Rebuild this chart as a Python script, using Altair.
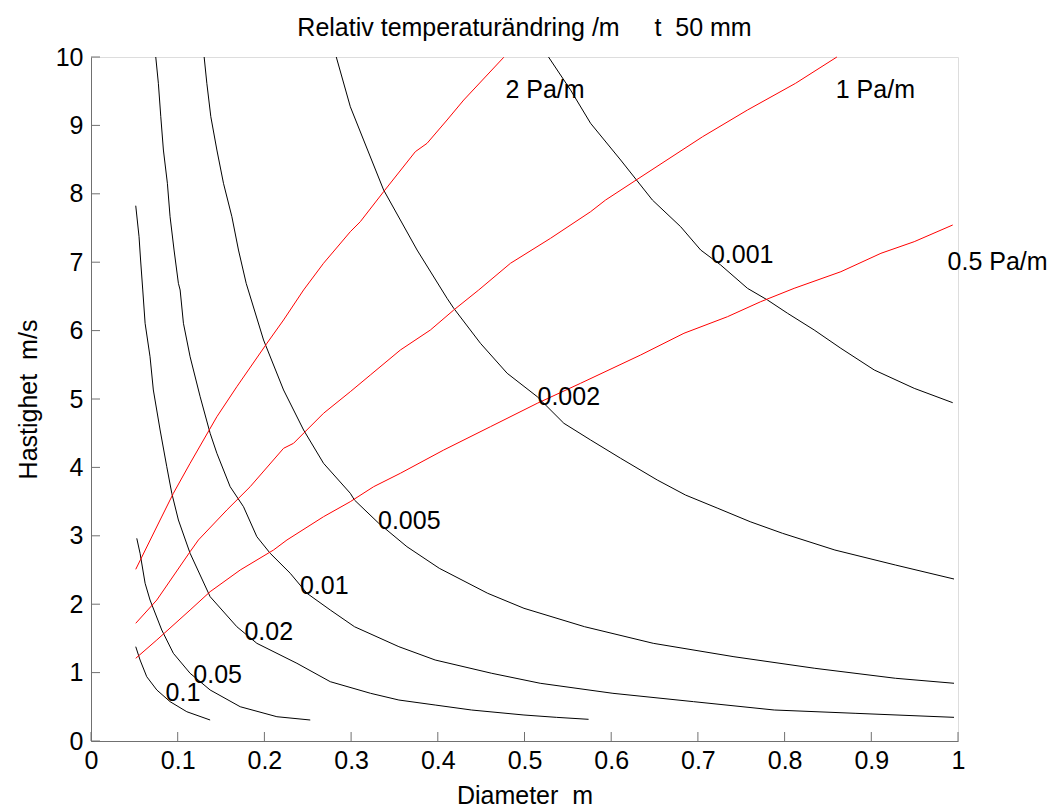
import altair as alt
import pandas as pd

# ---- contour curves: relative temperature change per metre (black) ----
d_01 = [0.0516, 0.0566, 0.0643, 0.0759, 0.0912, 0.1105, 0.1374]
v_01 = [1.379, 1.184, 0.940, 0.746, 0.575, 0.428, 0.307]

d_005 = [0.0528, 0.0566, 0.0624, 0.0681, 0.0816, 0.0950, 0.1143, 0.1374, 0.1721, 0.2144, 0.2529]
v_005 = [2.963, 2.744, 2.306, 2.061, 1.623, 1.282, 0.990, 0.746, 0.501, 0.355, 0.307]

d_002 = [0.0516, 0.0554, 0.0572, 0.0597, 0.0624, 0.0681, 0.0719, 0.0797, 0.0874, 0.0932, 0.1008,
         0.1143, 0.1374, 0.1682, 0.1913, 0.2375, 0.2760, 0.3225, 0.3551, 0.3970, 0.4389, 0.4994,
         0.5367, 0.5739]
v_002 = [7.826, 7.373, 7.032, 6.594, 6.107, 5.618, 5.132, 4.547, 4.010, 3.621, 3.231,
         2.744, 2.110, 1.671, 1.428, 1.136, 0.867, 0.697, 0.599, 0.526, 0.453, 0.380,
         0.346, 0.317]

d_001 = [0.0747, 0.0777, 0.0805, 0.0835, 0.0881, 0.0912, 0.0958, 0.1008, 0.1028, 0.1066, 0.1143,
         0.1259, 0.1374, 0.1452, 0.1605, 0.1759, 0.1913, 0.2067, 0.2298, 0.2491, 0.2760, 0.3039,
         0.3551, 0.3970, 0.4622, 0.5181, 0.6020, 0.6950, 0.7881, 0.8813, 0.9954]
v_001 = [10.0, 9.616, 9.127, 8.640, 8.154, 7.665, 7.178, 6.691, 6.594, 6.107, 5.618,
         5.034, 4.499, 4.206, 3.718, 3.425, 2.987, 2.744, 2.452, 2.159, 1.915, 1.671,
         1.379, 1.184, 0.990, 0.844, 0.697, 0.575, 0.453, 0.405, 0.346]

d_0005 = [0.1305, 0.1336, 0.1382, 0.1452, 0.1528, 0.1625, 0.1701, 0.1790, 0.1990, 0.2221, 0.2452,
          0.2682, 0.2991, 0.3039, 0.3319, 0.3644, 0.4017, 0.4576, 0.4994, 0.5693, 0.6485, 0.7416,
          0.8348, 0.9278, 0.9954]
v_0005 = [10.0, 9.616, 9.127, 8.640, 8.154, 7.665, 7.178, 6.691, 5.863, 5.132, 4.547,
          4.060, 3.621, 3.523, 3.183, 2.841, 2.525, 2.159, 1.940, 1.671, 1.428, 1.232,
          1.063, 0.917, 0.844]

d_0002 = [0.2829, 0.2991, 0.3144, 0.3375, 0.3568, 0.3761, 0.4107, 0.4184, 0.4492, 0.4800, 0.5147,
          0.5454, 0.5762, 0.6109, 0.6531, 0.6857, 0.7230, 0.7603, 0.7975, 0.8580, 0.9278, 0.9954]
v_0002 = [10.0, 9.273, 8.787, 8.056, 7.617, 7.178, 6.472, 6.326, 5.814, 5.376, 5.034,
          4.645, 4.401, 4.133, 3.816, 3.596, 3.402, 3.206, 3.037, 2.792, 2.573, 2.368]

d_0001 = [0.5277, 0.5531, 0.5762, 0.6109, 0.6475, 0.6801, 0.7032, 0.7263, 0.7572, 0.7803, 0.8034,
          0.8341, 0.8649, 0.9034, 0.9495, 0.9939]
v_0001 = [10.0, 9.518, 9.031, 8.494, 7.909, 7.519, 7.178, 6.959, 6.618, 6.447, 6.253,
          6.009, 5.741, 5.424, 5.156, 4.946]

# ---- pressure-drop curves (red) ----
d_2pa = [0.0516, 0.0797, 0.0950, 0.1143, 0.1452, 0.1682, 0.2029, 0.2221, 0.2452, 0.2682, 0.2991,
         0.3106, 0.3375, 0.3741, 0.3876, 0.4107, 0.4299, 0.4761]
v_2pa = [2.510, 3.231, 3.621, 4.060, 4.741, 5.180, 5.814, 6.155, 6.594, 6.984, 7.446,
         7.592, 8.031, 8.616, 8.738, 9.079, 9.371, 9.996]

d_1pa = [0.0516, 0.0759, 0.1143, 0.1239, 0.1567, 0.1836, 0.2221, 0.2336, 0.2682, 0.2991, 0.3222,
         0.3568, 0.3915, 0.4184, 0.4472, 0.4838, 0.5300, 0.5762, 0.5935, 0.6289, 0.7055, 0.7572,
         0.8127, 0.8603]
v_1pa = [1.721, 2.061, 2.768, 2.939, 3.377, 3.718, 4.279, 4.352, 4.791, 5.107, 5.351,
         5.716, 6.009, 6.301, 6.594, 6.984, 7.349, 7.738, 7.909, 8.202, 8.835, 9.225,
         9.616, 10.0]

d_05pa = [0.0516, 0.0759, 0.1143, 0.1374, 0.1721, 0.2105, 0.2260, 0.2682, 0.2991, 0.3260, 0.3568,
          0.4068, 0.4607, 0.5147, 0.5647, 0.6339, 0.6839, 0.7341, 0.7725, 0.8110, 0.8649, 0.9111,
          0.9495, 0.9939]
v_05pa = [1.209, 1.477, 1.915, 2.183, 2.500, 2.792, 2.939, 3.279, 3.499, 3.718, 3.914,
          4.254, 4.595, 4.937, 5.230, 5.643, 5.961, 6.203, 6.423, 6.618, 6.861, 7.130,
          7.300, 7.544]

# ---- curve labels ----
label_text = ["2 Pa/m", "1 Pa/m", "0.5 Pa/m", "0.001", "0.002", "0.005", "0.01", "0.02", "0.05", "0.1"]
label_x = [0.478, 0.859, 0.988, 0.715, 0.515, 0.331, 0.241, 0.177, 0.118, 0.086]
label_y = [9.52, 9.52, 7.00, 7.11, 5.03, 3.22, 2.27, 1.59, 0.97, 0.70]

# ---- axis ticks ----
x_ticks = [0, 0.1, 0.2, 0.3, 0.4, 0.5, 0.6, 0.7, 0.8, 0.9, 1.0]
y_ticks = [0, 1, 2, 3, 4, 5, 6, 7, 8, 9, 10]

curves = [
    ("0.1", d_01, v_01, "black"),
    ("0.05", d_005, v_005, "black"),
    ("0.02", d_002, v_002, "black"),
    ("0.01", d_001, v_001, "black"),
    ("0.005", d_0005, v_0005, "black"),
    ("0.002", d_0002, v_0002, "black"),
    ("0.001", d_0001, v_0001, "black"),
    ("2 Pa/m", d_2pa, v_2pa, "red"),
    ("1 Pa/m", d_1pa, v_1pa, "red"),
    ("0.5 Pa/m", d_05pa, v_05pa, "red"),
]
rows = []
for name, xs, ys, col in curves:
    for i, (a, b) in enumerate(zip(xs, ys)):
        rows.append({"series": name, "x": a, "y": b, "i": i, "col": col})
lines_df = pd.DataFrame(rows)
labels_df = pd.DataFrame({"x": label_x, "y": label_y, "t": label_text})
xt_df = pd.DataFrame({"x": x_ticks})
yt_df = pd.DataFrame({"y": y_ticks})

FONT = "Liberation Sans"
W, H = 867, 684
AXIS_GRAY = "#707070"

xscale = alt.Scale(domain=[0, 1], nice=False, zero=False)
yscale = alt.Scale(domain=[0, 10], nice=False, zero=False)

xaxis = alt.Axis(values=x_ticks, format="~g", title="Diameter\u00a0\u00a0m", grid=False,
                 ticks=False, tickSize=0, domainColor=AXIS_GRAY, domainWidth=1,
                 labelFont=FONT, labelFontSize=25, labelColor="black", labelPadding=7,
                 labelFlush=False, labelOverlap=False,
                 titleFont=FONT, titleFontSize=25, titleFontWeight="normal", titleColor="black",
                 titlePadding=10)
yaxis = alt.Axis(values=y_ticks, format="~g", title="Hastighet\u00a0\u00a0m/s", grid=False,
                 ticks=False, tickSize=0, domainColor=AXIS_GRAY, domainWidth=1,
                 labelFont=FONT, labelFontSize=25, labelColor="black", labelPadding=8,
                 labelFlush=False, labelOverlap=False,
                 titleFont=FONT, titleFontSize=25, titleFontWeight="normal", titleColor="black",
                 titlePadding=14)

lines = alt.Chart(lines_df).mark_line(strokeWidth=1, interpolate="linear").encode(
    x=alt.X("x:Q", scale=xscale, axis=xaxis),
    y=alt.Y("y:Q", scale=yscale, axis=yaxis),
    color=alt.Color("col:N", scale=None),
    detail="series:N",
    order="i:Q",
)

texts = alt.Chart(labels_df).mark_text(align="left", baseline="middle", font=FONT,
                                        fontSize=25, color="black").encode(
    x="x:Q", y="y:Q", text="t:N"
)

xticks = alt.Chart(xt_df).mark_rule(color=AXIS_GRAY, strokeWidth=1).encode(
    x="x:Q", y=alt.value(H), y2=alt.value(H - 9)
)
yticks = alt.Chart(yt_df).mark_rule(color=AXIS_GRAY, strokeWidth=1).encode(
    y="y:Q", x=alt.value(0), x2=alt.value(9)
)

chart = alt.layer(lines, xticks, yticks, texts).properties(
    width=W, height=H,
    title=alt.TitleParams(
        "Relativ temperaturändring /m\u00a0\u00a0\u00a0\u00a0\u00a0t\u00a0\u00a050 mm",
        font=FONT, fontSize=25, fontWeight="normal", color="black", anchor="middle", offset=4),
    autosize=alt.AutoSizeParams(type="none"),
    padding={"left": 91, "top": 57, "right": 101, "bottom": 69},
).configure_view(stroke=None).configure(background="white")

chart.save("out.html", embed_options={"renderer": "svg", "actions": False})
